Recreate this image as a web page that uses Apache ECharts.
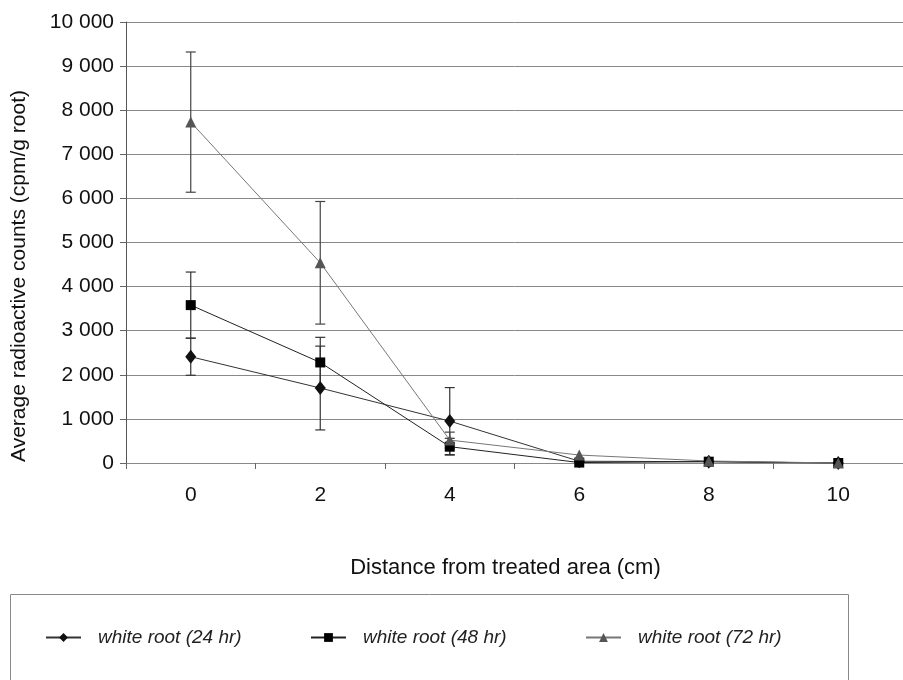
<!DOCTYPE html>
<html>
<head>
<meta charset="utf-8">
<script src="https://cdn.jsdelivr.net/npm/echarts@6/dist/echarts.min.js"></script>
<style>
html,body{margin:0;padding:0;background:#fff;}
#chart{width:903px;height:680px;}
</style>
</head>
<body>
<div id="chart"></div>
<script>
// ---- data ----
const categories = ['0', '2', '4', '6', '8', '10'];
const yTicks = [0, 1000, 2000, 3000, 4000, 5000, 6000, 7000, 8000, 9000, 10000];
const w24 = [2410, 1700, 950, 40, 30, 0];
const w24Err = [420, 950, 760, 0, 0, 0];
const w48 = [3580, 2280, 370, 10, 30, 0];
const w48Err = [750, 570, 190, 0, 0, 0];
const w72 = [7730, 4540, 520, 180, 45, 0];
const w72Err = [1590, 1390, 180, 0, 0, 0];
const seriesNames = ['white root (24 hr)', 'white root (48 hr)', 'white root (72 hr)'];

function errData(vals, errs) {
  return vals.map((v, i) => [i, v - errs[i], v + errs[i], errs[i]]);
}

function errSeries(vals, errs, color) {
  return {
    type: 'custom',
    silent: true,
    z: 3,
    data: errData(vals, errs).filter(d => d[3] > 0),
    renderItem: function (params, api) {
      const lo = api.coord([api.value(0), api.value(1)]);
      const hi = api.coord([api.value(0), api.value(2)]);
      const cap = 5;
      const st = { stroke: color, lineWidth: 1.2 };
      return {
        type: 'group',
        children: [
          { type: 'line', shape: { x1: lo[0], y1: lo[1], x2: hi[0], y2: hi[1] }, style: st },
          { type: 'line', shape: { x1: lo[0] - cap, y1: lo[1], x2: lo[0] + cap, y2: lo[1] }, style: st },
          { type: 'line', shape: { x1: hi[0] - cap, y1: hi[1], x2: hi[0] + cap, y2: hi[1] }, style: st }
        ]
      };
    }
  };
}

const chart = echarts.init(document.getElementById('chart'), null, { renderer: 'canvas' });
const font = 'Liberation Sans, Arial, sans-serif';

const legendBase = {
  top: 628,
  padding: 0,
  itemWidth: 35,
  itemHeight: 11,
  textStyle: { fontFamily: font, fontSize: 19, fontStyle: 'italic', color: '#222', padding: [0, 0, 0, 12] }
};

chart.setOption({
  animation: false,
  backgroundColor: '#fff',
  grid: { left: 126, top: 22, width: 786, height: 441 },
  legend: [
    Object.assign({ left: 45, data: [seriesNames[0]] }, legendBase),
    Object.assign({ left: 310, data: [seriesNames[1]] }, legendBase),
    Object.assign({ left: 585, data: [seriesNames[2]] }, legendBase)
  ],
  graphic: [
    { type: 'rect', shape: { x: 10.5, y: 594.5, width: 838, height: 120 }, style: { fill: 'none', stroke: '#888', lineWidth: 1 } },
    { type: 'text', x: 19, y: 276, rotation: Math.PI / 2, style: { text: 'Average radioactive counts (cpm/g root)', font: '21px ' + font, fill: '#111', align: 'center', verticalAlign: 'middle' } }
  ],
  xAxis: {
    type: 'category',
    data: categories,
    boundaryGap: true,
    name: 'Distance from treated area (cm)',
    nameLocation: 'middle',
    nameGap: 94,
    nameTextStyle: { fontFamily: font, fontSize: 22, color: '#111', padding: [0, 18, 0, 0] },
    axisLine: { lineStyle: { color: '#888', width: 1 } },
    axisTick: { show: true, length: 6, lineStyle: { color: '#666' } },
    axisLabel: { fontFamily: font, fontSize: 21, color: '#111', margin: 22 }
  },
  yAxis: {
    type: 'value',
    min: yTicks[0],
    max: yTicks[yTicks.length - 1],
    interval: 1000,
    axisLine: { show: true, lineStyle: { color: '#555', width: 1 } },
    axisTick: { show: true, length: 6, lineStyle: { color: '#666' } },
    splitLine: { lineStyle: { color: '#888', width: 1 } },
    axisLabel: {
      fontFamily: font, fontSize: 21, color: '#111', margin: 12,
      formatter: v => String(v).replace(/\B(?=(\d{3})+(?!\d))/g, ' ')
    }
  },
  series: [
    {
      name: seriesNames[0], type: 'line', data: w24, z: 4,
      symbol: 'diamond', symbolSize: [11, 14],
      itemStyle: { color: '#111' },
      lineStyle: { color: '#333', width: 1 }
    },
    {
      name: seriesNames[1], type: 'line', data: w48, z: 4,
      symbol: 'rect', symbolSize: 10,
      itemStyle: { color: '#000' },
      lineStyle: { color: '#222', width: 1 }
    },
    {
      name: seriesNames[2], type: 'line', data: w72, z: 4,
      symbol: 'triangle', symbolSize: [11, 11],
      itemStyle: { color: '#555' },
      lineStyle: { color: '#777', width: 1 }
    },
    errSeries(w24, w24Err, '#333'),
    errSeries(w48, w48Err, '#333'),
    errSeries(w72, w72Err, '#444')
  ]
});
</script>
</body>
</html>
